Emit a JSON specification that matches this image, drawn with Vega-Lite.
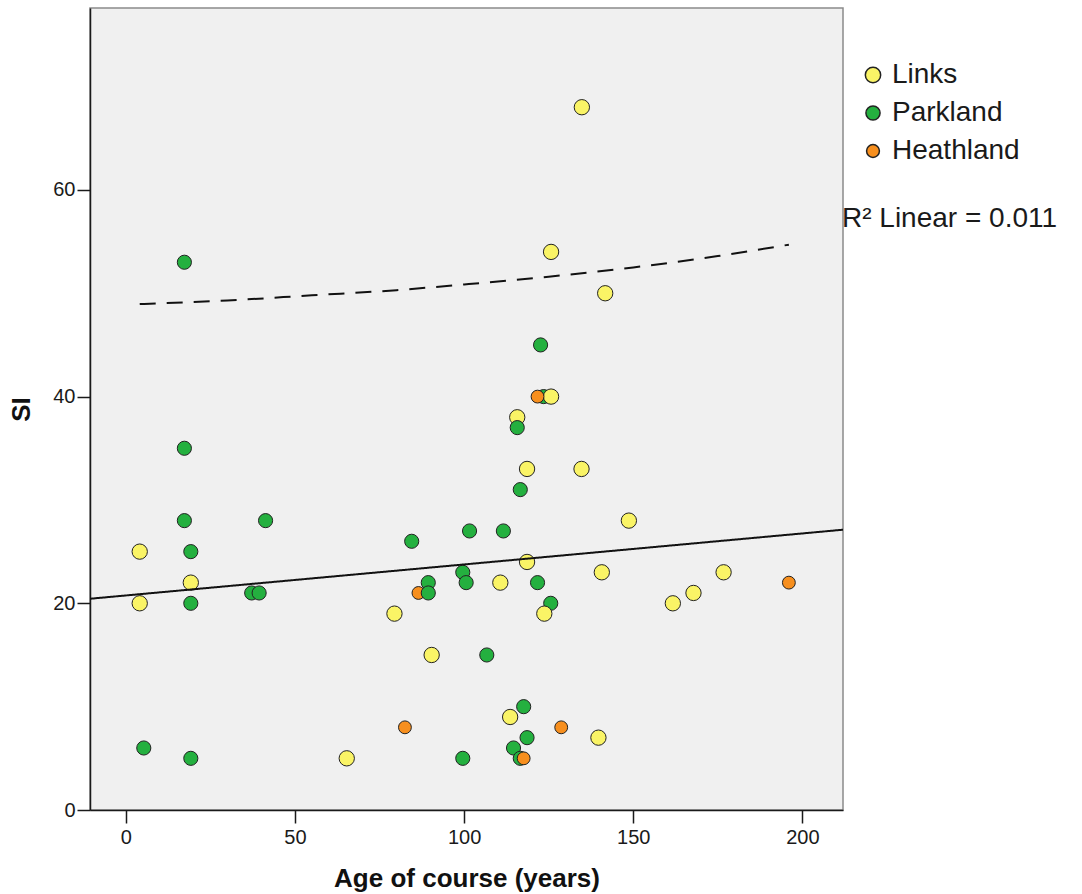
{
  "$schema": "https://vega.github.io/schema/vega-lite/v6.json",
  "width": 753,
  "height": 802,
  "autosize": {"type": "none"},
  "padding": {"left": 90, "top": 8, "right": 239, "bottom": 84},
  "background": "white",
  "config": {
    "view": {"fill": "#f0f0f0", "stroke": "#8a8a8a", "strokeWidth": 1.5},
    "font": "Liberation Sans",
    "axis": {
      "grid": false,
      "domainColor": "#1a1a1a",
      "domainWidth": 1.5,
      "tickColor": "#1a1a1a",
      "tickWidth": 1.5,
      "tickSize": 13,
      "labelFont": "Liberation Sans",
      "labelFontSize": 20,
      "labelColor": "#1a1a1a",
      "titleFont": "Liberation Sans",
      "titleFontSize": 26,
      "titleFontWeight": "bold",
      "titleColor": "#111111"
    }
  },
  "datasets": {
    "courses": [
      {"type": "Heathland", "age": 86.5, "SI": 21},
      {"type": "Parkland", "age": 17.3, "SI": 53},
      {"type": "Parkland", "age": 122.6, "SI": 45},
      {"type": "Parkland", "age": 123.5, "SI": 40},
      {"type": "Parkland", "age": 116.6, "SI": 31},
      {"type": "Parkland", "age": 17.3, "SI": 35},
      {"type": "Parkland", "age": 17.3, "SI": 28},
      {"type": "Parkland", "age": 41.3, "SI": 28},
      {"type": "Parkland", "age": 19.2, "SI": 25},
      {"type": "Parkland", "age": 84.5, "SI": 26},
      {"type": "Parkland", "age": 101.6, "SI": 27},
      {"type": "Parkland", "age": 111.6, "SI": 27},
      {"type": "Parkland", "age": 99.6, "SI": 23},
      {"type": "Parkland", "age": 100.6, "SI": 22},
      {"type": "Parkland", "age": 89.4, "SI": 22},
      {"type": "Parkland", "age": 89.4, "SI": 21},
      {"type": "Parkland", "age": 37.2, "SI": 21},
      {"type": "Parkland", "age": 39.4, "SI": 21},
      {"type": "Parkland", "age": 19.2, "SI": 20},
      {"type": "Parkland", "age": 121.7, "SI": 22},
      {"type": "Parkland", "age": 125.6, "SI": 20},
      {"type": "Parkland", "age": 106.7, "SI": 15},
      {"type": "Parkland", "age": 117.6, "SI": 10},
      {"type": "Parkland", "age": 118.6, "SI": 7},
      {"type": "Parkland", "age": 114.6, "SI": 6},
      {"type": "Parkland", "age": 116.6, "SI": 5},
      {"type": "Parkland", "age": 99.6, "SI": 5},
      {"type": "Parkland", "age": 5.3, "SI": 6},
      {"type": "Parkland", "age": 19.2, "SI": 5},
      {"type": "Links", "age": 134.8, "SI": 68},
      {"type": "Links", "age": 125.7, "SI": 54},
      {"type": "Links", "age": 141.7, "SI": 50},
      {"type": "Links", "age": 125.7, "SI": 40},
      {"type": "Links", "age": 115.7, "SI": 38},
      {"type": "Links", "age": 118.6, "SI": 33},
      {"type": "Links", "age": 134.7, "SI": 33},
      {"type": "Links", "age": 148.7, "SI": 28},
      {"type": "Links", "age": 4.1, "SI": 25},
      {"type": "Links", "age": 118.6, "SI": 24},
      {"type": "Links", "age": 19.2, "SI": 22},
      {"type": "Links", "age": 110.7, "SI": 22},
      {"type": "Links", "age": 140.7, "SI": 23},
      {"type": "Links", "age": 176.7, "SI": 23},
      {"type": "Links", "age": 167.8, "SI": 21},
      {"type": "Links", "age": 161.7, "SI": 20},
      {"type": "Links", "age": 4.1, "SI": 20},
      {"type": "Links", "age": 79.4, "SI": 19},
      {"type": "Links", "age": 123.7, "SI": 19},
      {"type": "Links", "age": 90.4, "SI": 15},
      {"type": "Links", "age": 113.6, "SI": 9},
      {"type": "Links", "age": 139.7, "SI": 7},
      {"type": "Links", "age": 65.3, "SI": 5},
      {"type": "Parkland", "age": 115.7, "SI": 37},
      {"type": "Heathland", "age": 121.7, "SI": 40},
      {"type": "Heathland", "age": 82.5, "SI": 8},
      {"type": "Heathland", "age": 128.7, "SI": 8},
      {"type": "Heathland", "age": 117.6, "SI": 5},
      {"type": "Heathland", "age": 196.0, "SI": 22}
    ],
    "fit": [
      {"label": "R² Linear = 0.011", "age": -10.6, "SI": 20.44},
      {"label": "R² Linear = 0.011", "age": 212, "SI": 27.12}
    ],
    "upper": [
      {"age": 4.1, "SI": 48.95},
      {"age": 30, "SI": 49.3},
      {"age": 55, "SI": 49.8},
      {"age": 80, "SI": 50.3},
      {"age": 100, "SI": 50.85},
      {"age": 125, "SI": 51.6},
      {"age": 150, "SI": 52.5},
      {"age": 175, "SI": 53.6},
      {"age": 196, "SI": 54.7}
    ]
  },
  "layer": [
    {
      "data": {"name": "courses"},
      "mark": {"type": "circle", "opacity": 1, "stroke": "#222222", "strokeWidth": 1},
      "encoding": {
        "x": {
          "field": "age",
          "type": "quantitative",
          "scale": {"domain": [-10.6, 212], "nice": false, "zero": false},
          "axis": {"values": [0, 50, 100, 150, 200], "title": "Age of course (years)", "labelPadding": 4, "titlePadding": 18}
        },
        "y": {
          "field": "SI",
          "type": "quantitative",
          "scale": {"domain": [0, 77.6], "nice": false},
          "axis": {"values": [0, 20, 40, 60], "title": "SI", "labelPadding": 2, "titlePadding": 18}
        },
        "color": {
          "field": "type",
          "type": "nominal",
          "scale": {"domain": ["Links", "Parkland", "Heathland"], "range": ["#faf466", "#24b03f", "#f78f1e"]},
          "legend": {
            "title": null,
            "orient": "none",
            "legendX": 769,
            "legendY": 53,
            "padding": 0,
            "labelFont": "Liberation Sans",
            "labelFontSize": 28,
            "labelColor": "#1a1a1a",
            "labelOffset": 5,
            "rowPadding": 10,
            "symbolOpacity": 1,
            "encode": {
              "symbols": {
                "update": {
                  "size": {"scale": "size", "field": "value"},
                  "stroke": {"value": "#222222"},
                  "strokeWidth": {"value": 1},
                  "opacity": {"value": 1}
                }
              }
            }
          }
        },
        "size": {
          "field": "type",
          "type": "nominal",
          "scale": {"domain": ["Links", "Parkland", "Heathland"], "range": [235, 165, 135]},
          "legend": null
        }
      }
    },
    {
      "data": {"name": "fit"},
      "mark": {"type": "line", "color": "#111111", "strokeWidth": 2, "clip": true},
      "encoding": {
        "x": {"field": "age", "type": "quantitative"},
        "y": {"field": "SI", "type": "quantitative"},
        "strokeDash": {
          "field": "label",
          "type": "nominal",
          "scale": {"range": [[1, 0]]},
          "legend": {
            "title": null,
            "orient": "none",
            "legendX": 724,
            "legendY": 197,
            "padding": 0,
            "labelFont": "Liberation Sans",
            "labelFontSize": 28,
            "labelColor": "#1a1a1a",
            "labelOffset": 0,
            "labelLimit": 0,
            "symbolSize": 0,
            "symbolStrokeWidth": 0,
            "symbolOpacity": 0
          }
        }
      }
    },
    {
      "data": {"name": "upper"},
      "mark": {"type": "line", "color": "#111111", "strokeWidth": 2, "strokeDash": [16, 11], "interpolate": "monotone"},
      "encoding": {
        "x": {"field": "age", "type": "quantitative"},
        "y": {"field": "SI", "type": "quantitative"}
      }
    }
  ]
}
